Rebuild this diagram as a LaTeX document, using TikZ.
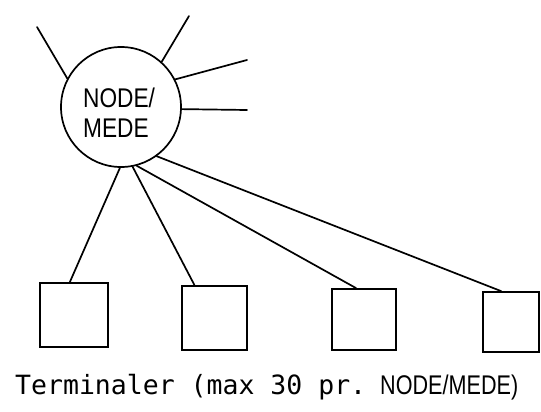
\documentclass[tikz,border=0pt]{standalone}
\usepackage{fontspec}
\setsansfont{Liberation Sans}
\setmonofont{DejaVu Sans Mono}
\usetikzlibrary{calc}
\tikzset{
  ln/.style={line width=1.7pt, line cap=round},
  hub/.style={circle, draw, line width=1.7pt, minimum size=120pt, inner sep=0pt},
  term/.style={rectangle, draw, line width=1.7pt, inner sep=0pt},
}
\begin{document}
\begin{tikzpicture}[x=1pt,y=-1pt]
\useasboundingbox (0,0) rectangle (541,412);
\fill[white] (0,0) rectangle (541,412);
\node[hub] (c) at (121,107) {};
\node[anchor=base west, inner sep=0pt, font=\sffamily\fontsize{27}{27}\selectfont] (t1) at (83,107) {\scalebox{0.84}[1]{NODE/}};
\node[anchor=base west, inner sep=0pt, font=\sffamily\fontsize{27}{27}\selectfont] (t2) at (83,137) {\scalebox{0.84}[1]{MEDE}};
% free ends
\coordinate (e1) at (37,27);
\coordinate (e2) at (189,16);
\coordinate (e3) at (247,60);
\coordinate (e4) at (247,110);
\draw[ln] (c.152) -- (e1);
\draw[ln] (c.48) -- (e2);
\draw[ln] (c.27) -- (e3);
\draw[ln] (c.-2) -- (e4);
% terminals
\node[term, minimum width=68pt, minimum height=64pt] (b1) at (74,315) {};
\node[term, minimum width=65pt, minimum height=64pt] (b2) at (214.5,318) {};
\node[term, minimum width=64pt, minimum height=61pt] (b3) at (364,319.5) {};
\node[term, minimum width=56pt, minimum height=60pt] (b4) at (511,322) {};
\draw[ln] (c.269) -- ($(b1.north west)!0.44!(b1.north east)$);
\draw[ln] (c.281) -- ($(b2.north west)!0.2!(b2.north east)$);
\draw[ln] (c.285) -- ($(b3.north west)!0.38!(b3.north east)$);
\draw[ln] (c.306) -- ($(b4.north west)!0.33!(b4.north east)$);
\node[anchor=base west, inner sep=0pt] (cap) at (15,394)
  {\ttfamily\fontsize{26.5}{26.5}\selectfont Terminaler (max 30 pr.\hspace{14pt}\sffamily\fontsize{27}{27}\selectfont\scalebox{0.8}[1]{NODE/MEDE)}};
\end{tikzpicture}
\end{document}
